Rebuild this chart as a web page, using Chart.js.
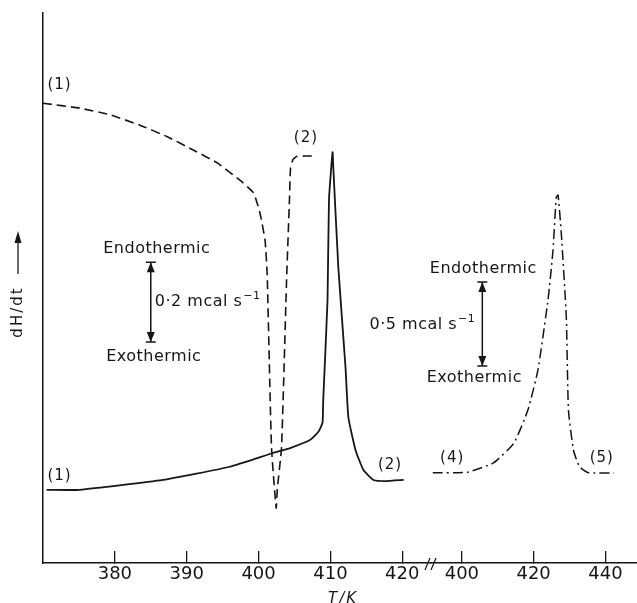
<!DOCTYPE html>
<html lang="en">
<head>
  <meta charset="UTF-8">
  <title>dH/dt traces</title>
  <script src="https://cdn.jsdelivr.net/npm/chart.js"></script>
  <style>
    html, body { margin: 0; padding: 0; background: #fff; }
  </style>
</head>
<body>
  <canvas id="dsc" width="637" height="603"></canvas>

  <script>
    // trace (1) -> (2), dashed
    const dashedT = [370.0, 375.1, 379.3, 383.5, 387.3, 390.9, 394.3, 397.4, 399.3, 400.2, 400.9, 401.2, 401.8, 402.45, 402.6, 403.2, 403.9, 404.3, 404.45, 404.8, 405.3, 406.5, 407.9];
    const dashedH = [83.6, 82.7, 81.5, 79.6, 77.5, 75.1, 72.7, 69.6, 67.3, 63.6, 58.7, 52.5, 21.1, 10.0, 13.3, 21.1, 51.5, 66.0, 71.8, 73.4, 73.9, 74.0, 74.0];

    // trace (1) -> (2), solid
    const solidT = [370.5, 375.1, 386.7, 396.0, 402.0, 404.4, 407.2, 408.3, 408.9, 409.0, 409.6, 409.8, 410.3, 410.4, 411.1, 412.1, 412.5, 413.5, 414.6, 416.0, 417.7, 420.2];
    const solidH = [13.3, 13.3, 15.1, 17.5, 20.0, 20.9, 22.4, 23.8, 25.5, 29.6, 47.8, 66.0, 74.7, 72.0, 53.8, 35.6, 26.5, 20.5, 16.9, 15.1, 14.9, 15.1];

    // trace (4) -> (5), dash-dot, right-hand temperature scale
    const dashDotT = [391.9, 401.5, 408.8, 414.5, 418.4, 421.2, 424.0, 425.4, 426.3, 426.8, 427.7, 429.1, 429.7, 431.1, 432.8, 435.3, 442.4];
    const dashDotH = [16.4, 16.5, 18.2, 21.8, 27.8, 35.1, 47.8, 56.9, 66.5, 66.9, 60.0, 44.7, 27.8, 20.5, 17.5, 16.4, 16.4];

    const leftTicks = [380, 390, 400, 410, 420];
    const rightTicks = [400, 420, 440];

    const ink = '#161616';
    const family = '"DejaVu Sans", sans-serif';

    const pairs = (xs, ys) => xs.map((x, i) => ({ x: x, y: ys[i] }));

    function scaleBar(ctx, x, yTop, yBot) {
      ctx.lineWidth = 1.5;
      ctx.beginPath();
      ctx.moveTo(x, yTop);
      ctx.lineTo(x, yBot);
      ctx.moveTo(x - 5, yTop);
      ctx.lineTo(x + 5, yTop);
      ctx.moveTo(x - 5, yBot);
      ctx.lineTo(x + 5, yBot);
      ctx.stroke();
      ctx.beginPath();
      ctx.moveTo(x, yTop);
      ctx.lineTo(x - 4, yTop + 10);
      ctx.lineTo(x + 4, yTop + 10);
      ctx.closePath();
      ctx.moveTo(x, yBot);
      ctx.lineTo(x - 4, yBot - 10);
      ctx.lineTo(x + 4, yBot - 10);
      ctx.closePath();
      ctx.fill();
    }

    // "0·2 mcal s⁻¹" with a raised exponent
    function unitText(ctx, base, x, y, align) {
      ctx.textAlign = 'left';
      ctx.textBaseline = 'middle';
      ctx.font = '16px ' + family;
      const w = ctx.measureText(base).width;
      ctx.font = '11px ' + family;
      const sw = ctx.measureText('\u22121').width;
      const x0 = align === 'left' ? x : x - (w + sw + 1);
      ctx.font = '16px ' + family;
      ctx.fillText(base, x0, y);
      ctx.font = '11px ' + family;
      ctx.fillText('\u22121', x0 + w + 1, y - 6);
    }

    const overlay = {
      id: 'overlay',
      afterDraw(chart) {
        const { ctx, chartArea, scales } = chart;
        const at = (axis, t, h) => [scales[axis].getPixelForValue(t), scales.y.getPixelForValue(h)];
        ctx.save();
        ctx.fillStyle = ink;
        ctx.strokeStyle = ink;

        // curve tags
        ctx.font = '15px ' + family;
        ctx.letterSpacing = '1px';
        ctx.textAlign = 'center';
        ctx.textBaseline = 'middle';
        [
          ['(1)', 'x', 372.3, 86.9],
          ['(2)', 'x', 406.6, 77.3],
          ['(1)', 'x', 372.3, 15.8],
          ['(2)', 'x', 418.3, 17.8],
          ['(4)', 'x2', 397.3, 19.1],
          ['(5)', 'x2', 439.0, 19.1]
        ].forEach(([txt, axis, t, h]) => {
          const [px, py] = at(axis, t, h);
          ctx.fillText(txt, px, py);
        });

        // scale bars
        ctx.letterSpacing = '0.5px';
        const [lx, lTop] = at('x', 385.0, 54.7);
        const lBot = scales.y.getPixelForValue(40.2);
        scaleBar(ctx, lx, lTop, lBot);
        ctx.font = '16px ' + family;
        ctx.textAlign = 'center';
        ctx.fillText('Endothermic', lx + 6, lTop - 13);
        ctx.fillText('Exothermic', lx + 3, lBot + 15);
        unitText(ctx, '0\u00b72 mcal s', lx + 4, (lTop + lBot) / 2, 'left');

        const [rx, rTop] = at('x2', 405.7, 51.1);
        const rBot = scales.y.getPixelForValue(35.8);
        scaleBar(ctx, rx, rTop, rBot);
        ctx.font = '16px ' + family;
        ctx.textAlign = 'center';
        ctx.fillText('Endothermic', rx + 1, rTop - 13);
        ctx.fillText('Exothermic', rx - 8, rBot + 12);
        unitText(ctx, '0\u00b75 mcal s', rx - 7, (rTop + rBot) / 2 + 1, 'right');

        // y axis title with arrow
        const yx = chartArea.left - 25;
        ctx.save();
        ctx.translate(yx, 312);
        ctx.rotate(-Math.PI / 2);
        ctx.font = '15px ' + family;
        ctx.letterSpacing = '2px';
        ctx.textAlign = 'center';
        ctx.textBaseline = 'middle';
        ctx.fillText('dH/dt', 0, 0);
        ctx.restore();
        ctx.lineWidth = 1.3;
        ctx.beginPath();
        ctx.moveTo(yx, 274);
        ctx.lineTo(yx, 240);
        ctx.stroke();
        ctx.beginPath();
        ctx.moveTo(yx, 231);
        ctx.lineTo(yx - 3.5, 243);
        ctx.lineTo(yx + 3.5, 243);
        ctx.closePath();
        ctx.fill();

        // x axis title
        ctx.font = 'italic 15px ' + family;
        ctx.letterSpacing = '2px';
        ctx.textAlign = 'center';
        ctx.textBaseline = 'top';
        ctx.fillText('T/K', (chartArea.left + chartArea.right) / 2 + 3, 592);

        // axis break marks
        const bx = scales.x.right;
        const by = chartArea.bottom;
        ctx.lineWidth = 1.2;
        ctx.beginPath();
        ctx.moveTo(bx - 6, by + 7);
        ctx.lineTo(bx - 1, by - 5);
        ctx.moveTo(bx, by + 7);
        ctx.lineTo(bx + 5, by - 5);
        ctx.stroke();

        ctx.restore();
      }
    };

    const xAxisCommon = {
      type: 'linear',
      position: 'bottom',
      stack: 'temperature',
      afterFit: s => { s.height = 40; s.paddingLeft = 0; s.paddingRight = 0; },
      grid: { display: true, drawOnChartArea: false, drawTicks: true, tickLength: -12, color: ink, lineWidth: 1.3 },
      border: { display: true, color: ink, width: 1.5 },
      ticks: { padding: 13, color: ink, font: { family: family, size: 18 }, maxRotation: 0, autoSkip: false }
    };

    new Chart(document.getElementById('dsc'), {
      type: 'line',
      data: {
        datasets: [
          {
            label: 'dashed',
            data: pairs(dashedT, dashedH),
            xAxisID: 'x',
            borderColor: ink,
            borderWidth: 1.6,
            borderDash: [9, 5],
            tension: 0.15,
            pointRadius: 0
          },
          {
            label: 'solid',
            data: pairs(solidT, solidH),
            xAxisID: 'x',
            borderColor: ink,
            borderWidth: 1.8,
            tension: 0.15,
            pointRadius: 0
          },
          {
            label: 'dash-dot',
            data: pairs(dashDotT, dashDotH),
            xAxisID: 'x2',
            borderColor: ink,
            borderWidth: 1.5,
            borderDash: [10, 4, 2, 4],
            tension: 0.15,
            pointRadius: 0
          }
        ]
      },
      options: {
        responsive: false,
        animation: false,
        devicePixelRatio: 1,
        layout: { padding: { top: 13, right: 0, bottom: 0, left: 0 } },
        plugins: {
          legend: { display: false },
          tooltip: { enabled: false }
        },
        scales: {
          x: Object.assign({}, xAxisCommon, {
            min: 370,
            max: 424,
            stackWeight: 388,
            afterBuildTicks: s => { s.ticks = leftTicks.map(v => ({ value: v })); }
          }),
          x2: Object.assign({}, xAxisCommon, {
            min: 391.4,
            max: 448.8,
            stackWeight: 206,
            afterBuildTicks: s => { s.ticks = rightTicks.map(v => ({ value: v })); }
          }),
          y: {
            type: 'linear',
            position: 'left',
            min: 0,
            max: 100,
            afterFit: s => { s.width = 43; s.paddingTop = 0; s.paddingBottom = 0; },
            grid: { display: false },
            border: { display: true, color: ink, width: 1.5 },
            ticks: { display: false }
          }
        }
      },
      plugins: [overlay]
    });
  </script>
</body>
</html>
